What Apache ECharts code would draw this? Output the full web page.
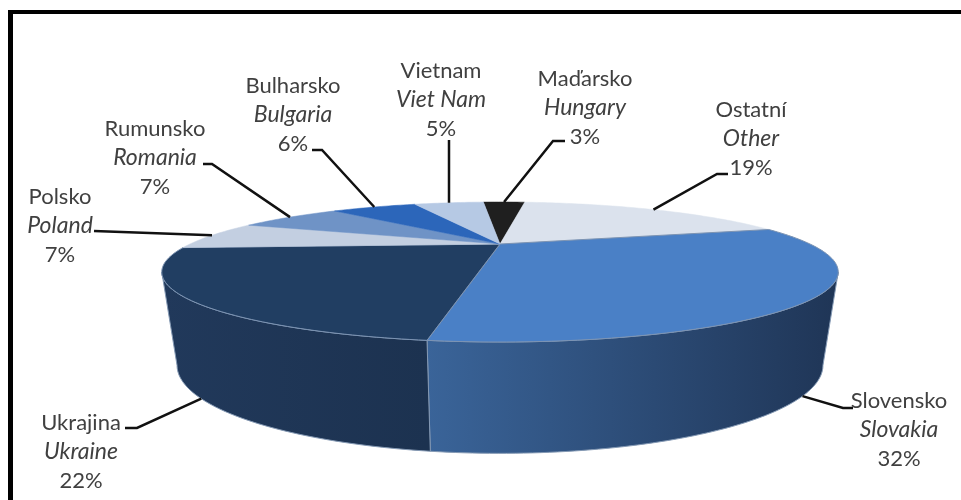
<!DOCTYPE html>
<html>
<head>
<meta charset="utf-8">
<style>html,body{margin:0;padding:0;background:#fff}#c{width:961px;height:500px}</style>
<script src="https://cdn.jsdelivr.net/npm/echarts@6/dist/echarts.min.js"></script>
</head>
<body>
<div id="c"></div>
<script>
// Clockwise from the slice straddling twelve o'clock.
const namesCs = ['Maďarsko', 'Ostatní', 'Slovensko', 'Ukrajina', 'Polsko', 'Rumunsko', 'Bulharsko', 'Vietnam'];
const namesEn = ['Hungary', 'Other', 'Slovakia', 'Ukraine', 'Poland', 'Romania', 'Bulgaria', 'Viet Nam'];
const shares = [3, 19, 32, 22, 7, 7, 6, 5];

const topColors = ['#1f1f1f', '#dbe2ed', '#4a80c6', '#213e62', '#c3cfe1', '#6f93c6', '#2c66ba', '#b6c9e4'];
const sideColors = [null, null, ['#3a6499', '#1f3556'], ['#1c3250', '#21395b'], null, null, null, null];

// Label centre x, first-line y, and the leader's route from the text towards the rim.
const labelX = [585, 751, 899, 81, 60, 155, 293, 441];
const labelY = [79, 110, 401, 423, 197, 129, 86, 71];
const leaderStart = [[565, 141], [728, 174], [853, 408], [125, 428], [94, 231], [203, 164], [312, 150], [449, 140]];
const leaderElbow = [[553, 141], [717, 174], [843, 408], [137, 428], null, [212, 164], [322, 150], null];
const anchorOnBase = [false, false, true, true, false, false, false, false];
const lineGap = 29;

const startDeg = -4.3;
const perspective = 0.4;
const topFace = { a: 310, b: 58.8, y0: 244 };
const baseFace = { a: 296, b: 74, y0: 330 };
const cx = 500;
const silhouette = [113.6, 246.4];

function project(face, deg) {
  const t = deg * Math.PI / 180;
  const w = 1 + perspective * Math.cos(t);
  return [cx + face.a * Math.sin(t) / w, face.y0 - face.b * Math.cos(t) / w];
}
function arc(face, from, to) {
  const pts = [];
  const n = Math.max(2, Math.ceil(Math.abs(to - from)));
  for (let i = 0; i <= n; i++) pts.push(project(face, from + (to - from) * i / n));
  return pts;
}

const total = shares.reduce((s, v) => s + v, 0);
const ranges = [];
shares.reduce((acc, v) => {
  const next = acc + v / total * 360;
  ranges.push([acc, next]);
  return next;
}, startDeg);

const rows = shares.map((v, i) => [i, v]);

function renderTop(params, api) {
  const i = api.value(0);
  const [a, b] = ranges[i];
  const dark = i === 2 || i === 3;
  return {
    type: 'polygon',
    shape: { points: [[cx, topFace.y0]].concat(arc(topFace, a, b)) },
    style: { fill: topColors[i], stroke: dark ? '#7d94b3' : topColors[i], lineWidth: dark ? 1 : 0.5 }
  };
}

function renderSide(params, api) {
  const i = api.value(0);
  const a = Math.max(ranges[i][0], silhouette[0]);
  const b = Math.min(ranges[i][1], silhouette[1]);
  if (a >= b || !sideColors[i]) return null;
  const upper = arc(topFace, a, b);
  const lower = arc(baseFace, b, a);
  return {
    type: 'polygon',
    shape: { points: upper.concat(lower) },
    style: {
      fill: {
        type: 'linear', global: true,
        x: upper[0][0], y: 0, x2: upper[upper.length - 1][0], y2: 0,
        colorStops: [
          { offset: i === 2 ? 1 : 0, color: sideColors[i][0] },
          { offset: i === 2 ? 0 : 1, color: sideColors[i][1] }
        ]
      },
      stroke: '#8499b4', lineWidth: 1
    }
  };
}

function renderCallout(params, api) {
  const i = api.value(0);
  const mid = (ranges[i][0] + ranges[i][1]) / 2;
  const anchor = project(anchorOnBase[i] ? baseFace : topFace, mid);
  const route = [leaderStart[i]];
  if (leaderElbow[i]) route.push(leaderElbow[i]);
  route.push(anchor);
  const font = (style, size) => ({
    x: labelX[i], align: 'center', verticalAlign: 'middle',
    fontFamily: 'Lato', fontSize: size, fontStyle: style, fill: '#404040'
  });
  return {
    type: 'group',
    children: [
      { type: 'polyline', shape: { points: route }, style: { fill: 'none', stroke: '#111', lineWidth: 2.5 } },
      { type: 'text', style: Object.assign(font('normal', 22), { y: labelY[i], text: namesCs[i] }) },
      { type: 'text', style: Object.assign(font('italic', 23), { y: labelY[i] + lineGap, text: namesEn[i] }) },
      { type: 'text', style: Object.assign(font('normal', 22), { y: labelY[i] + lineGap * 2, text: shares[i] + '%' }) }
    ]
  };
}

const chart = echarts.init(document.getElementById('c'));
chart.setOption({
  animation: false,
  backgroundColor: '#fff',
  graphic: [
    { type: 'rect', shape: { x: 8, y: 10, width: 953, height: 4 }, style: { fill: '#000' } },
    { type: 'rect', shape: { x: 8, y: 10, width: 5, height: 490 }, style: { fill: '#000' } }
  ],
  series: [
    { type: 'custom', coordinateSystem: 'none', z: 2, silent: true, data: rows, renderItem: renderSide },
    { type: 'custom', coordinateSystem: 'none', z: 3, silent: true, data: rows, renderItem: renderTop },
    { type: 'custom', coordinateSystem: 'none', z: 4, silent: true, data: rows, renderItem: renderCallout }
  ]
});
</script>
</body>
</html>
